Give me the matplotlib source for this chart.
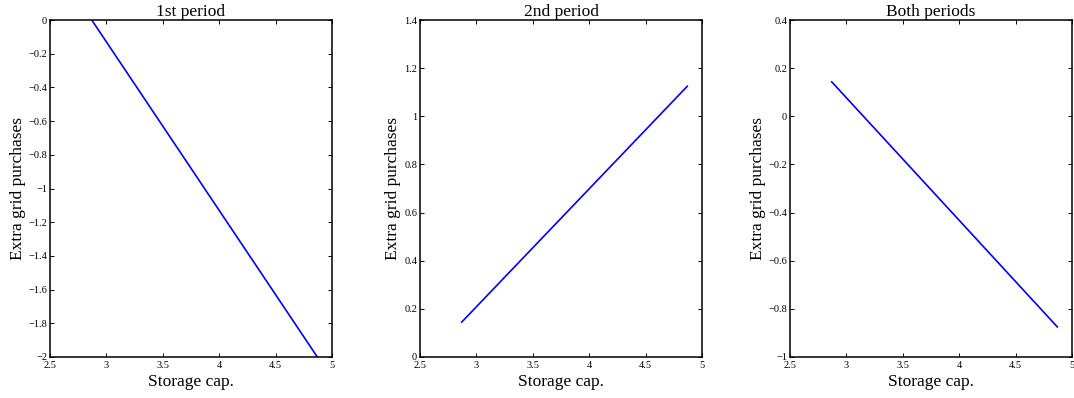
import numpy as np
import matplotlib
matplotlib.use('Agg')
import matplotlib.pyplot as plt
from matplotlib.ticker import FuncFormatter

# storage capacity (x) and extra grid purchases per period
storage_cap = [2.87, 4.87]
first_period = [0.0, -2.0]
second_period = [0.145, 1.125]
both_periods = [0.143, -0.875]

titles = ['1st period', '2nd period', 'Both periods']
series = [first_period, second_period, both_periods]
ylims = [(-2, 0), (0, 1.4), (-1, 0.4)]

plt.rcParams['font.family'] = ['Liberation Serif', 'DejaVu Serif']

W, H = 1074, 398
fig = plt.figure(figsize=(W / 100, H / 100), dpi=100)
lefts = [50, 420, 790]
ax_w = 282
top, bottom = 20, 357


def fmt(v, pos):
    s = '%g' % (round(v, 6) + 0.0)
    if s == '-0':
        s = '0'
    return s.replace('-', '\u2212')


for i in range(3):
    ax = fig.add_axes([lefts[i] / W, 1 - bottom / H, ax_w / W, (bottom - top) / H])
    ax.plot(storage_cap, series[i], color='#0000ff', lw=1.2)
    ax.set_xlim(2.5, 5)
    ax.set_ylim(*ylims[i])
    ax.set_xticks(np.arange(2.5, 5.01, 0.5))
    lo, hi = ylims[i]
    ax.set_yticks(np.arange(lo, hi + 1e-9, 0.2))
    ax.xaxis.set_major_formatter(FuncFormatter(fmt))
    ax.yaxis.set_major_formatter(FuncFormatter(fmt))
    ax.tick_params(direction='in', top=True, right=True, labelsize=7.5, length=3, width=0.7, pad=2)
    ax.tick_params(axis='x', pad=3)
    for sp in ax.spines.values():
        sp.set_linewidth(1.1)
    ax.set_title(titles[i], fontsize=12.5, pad=3)
    ax.set_xlabel('Storage cap.', fontsize=12.5, labelpad=3)
    ax.set_ylabel('Extra grid purchases', fontsize=12.5, labelpad=2)

fig.savefig('out.png', dpi=100)
